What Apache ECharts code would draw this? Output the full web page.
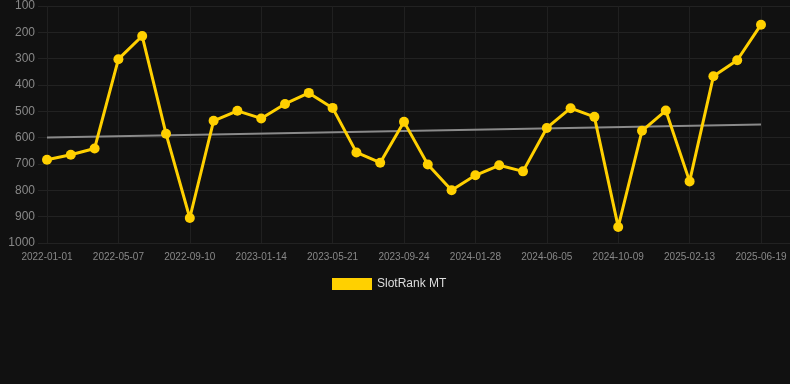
<!DOCTYPE html>
<html>
<head>
<meta charset="utf-8">
<script src="https://cdn.jsdelivr.net/npm/echarts@6/dist/echarts.min.js"></script>
<style>
  html, body { margin: 0; padding: 0; background: #111111; }
  #chart { width: 790px; height: 384px; }
</style>
</head>
<body>
<div id="chart"></div>
<script>
var dates = [
  '2022-01-01', '2022-02-12', '2022-03-26', '2022-05-07', '2022-06-18', '2022-07-30',
  '2022-09-10', '2022-10-22', '2022-12-03', '2023-01-14', '2023-02-25', '2023-04-08',
  '2023-05-21', '2023-07-02', '2023-08-13', '2023-09-24', '2023-11-05', '2023-12-17',
  '2024-01-28', '2024-03-10', '2024-04-22', '2024-06-05', '2024-07-17', '2024-08-28',
  '2024-10-09', '2024-11-20', '2025-01-01', '2025-02-13', '2025-03-27', '2025-05-08',
  '2025-06-19'
];
var rankValues = [
  684, 665, 641, 302, 214, 585, 905, 536, 498, 527, 472, 430, 487, 656, 695, 540,
  702, 800, 743, 705, 728, 563, 488, 521, 939, 574, 497, 766, 367, 306, 171
];
// trend line end points (first / last date)
var trendEnds = [599, 550];
var yTicks = { min: 100, max: 1000, step: 100 };

var trendData = dates.map(function (d, i) {
  if (i === 0) return trendEnds[0];
  if (i === dates.length - 1) return trendEnds[1];
  return null;
});

var chart = echarts.init(document.getElementById('chart'));
var font = 'Liberation Sans, Arial, sans-serif';

var option = {
  backgroundColor: '#111111',
  animation: false,
  textStyle: { fontFamily: font },
  legend: {
    data: ['SlotRank MT'],
    top: 273,
    left: 327,
    icon: 'rect',
    itemWidth: 40,
    itemHeight: 12,
    itemGap: 10,
    textStyle: { color: '#dddddd', fontSize: 12, fontFamily: font }
  },
  grid: [
    // background grid for the horizontal lines and y labels
    { left: 38, right: 0, top: 6, bottom: 141 },
    // plotting grid
    { left: 47, right: 29, top: 6, bottom: 141 }
  ],
  xAxis: [
    { gridIndex: 0, type: 'category', data: dates, show: false },
    {
      gridIndex: 1,
      type: 'category',
      data: dates,
      boundaryGap: false,
      axisLine: { show: false },
      axisTick: { show: false },
      axisLabel: {
        interval: 2,
        color: '#888888',
        fontSize: 10,
        margin: 9,
        fontFamily: font
      },
      splitLine: {
        show: true,
        interval: 2,
        lineStyle: { color: '#202020', width: 1 }
      }
    }
  ],
  yAxis: [
    {
      gridIndex: 0,
      type: 'value',
      inverse: true,
      min: yTicks.min,
      max: yTicks.max,
      interval: yTicks.step,
      axisLine: { show: false },
      axisTick: { show: false },
      axisLabel: {
        color: '#888888',
        fontSize: 12,
        margin: 3,
        fontFamily: font,
        formatter: function (v) { return String(v); }
      },
      splitLine: { lineStyle: { color: '#222222', width: 1 } }
    },
    {
      gridIndex: 1,
      type: 'value',
      inverse: true,
      min: yTicks.min,
      max: yTicks.max,
      interval: yTicks.step,
      show: false,
      splitLine: { show: false }
    }
  ],
  series: [
    {
      name: 'Trend',
      type: 'line',
      xAxisIndex: 1,
      yAxisIndex: 1,
      data: trendData,
      connectNulls: true,
      showSymbol: false,
      symbol: 'none',
      lineStyle: { color: '#8a8a8a', width: 2 },
      silent: true,
      z: 2
    },
    {
      name: 'SlotRank MT',
      type: 'line',
      xAxisIndex: 1,
      yAxisIndex: 1,
      data: rankValues,
      symbol: 'circle',
      symbolSize: 10,
      itemStyle: { color: '#ffd000' },
      lineStyle: { color: '#ffd000', width: 3 },
      z: 3
    }
  ]
};
chart.setOption(option);
</script>
</body>
</html>
